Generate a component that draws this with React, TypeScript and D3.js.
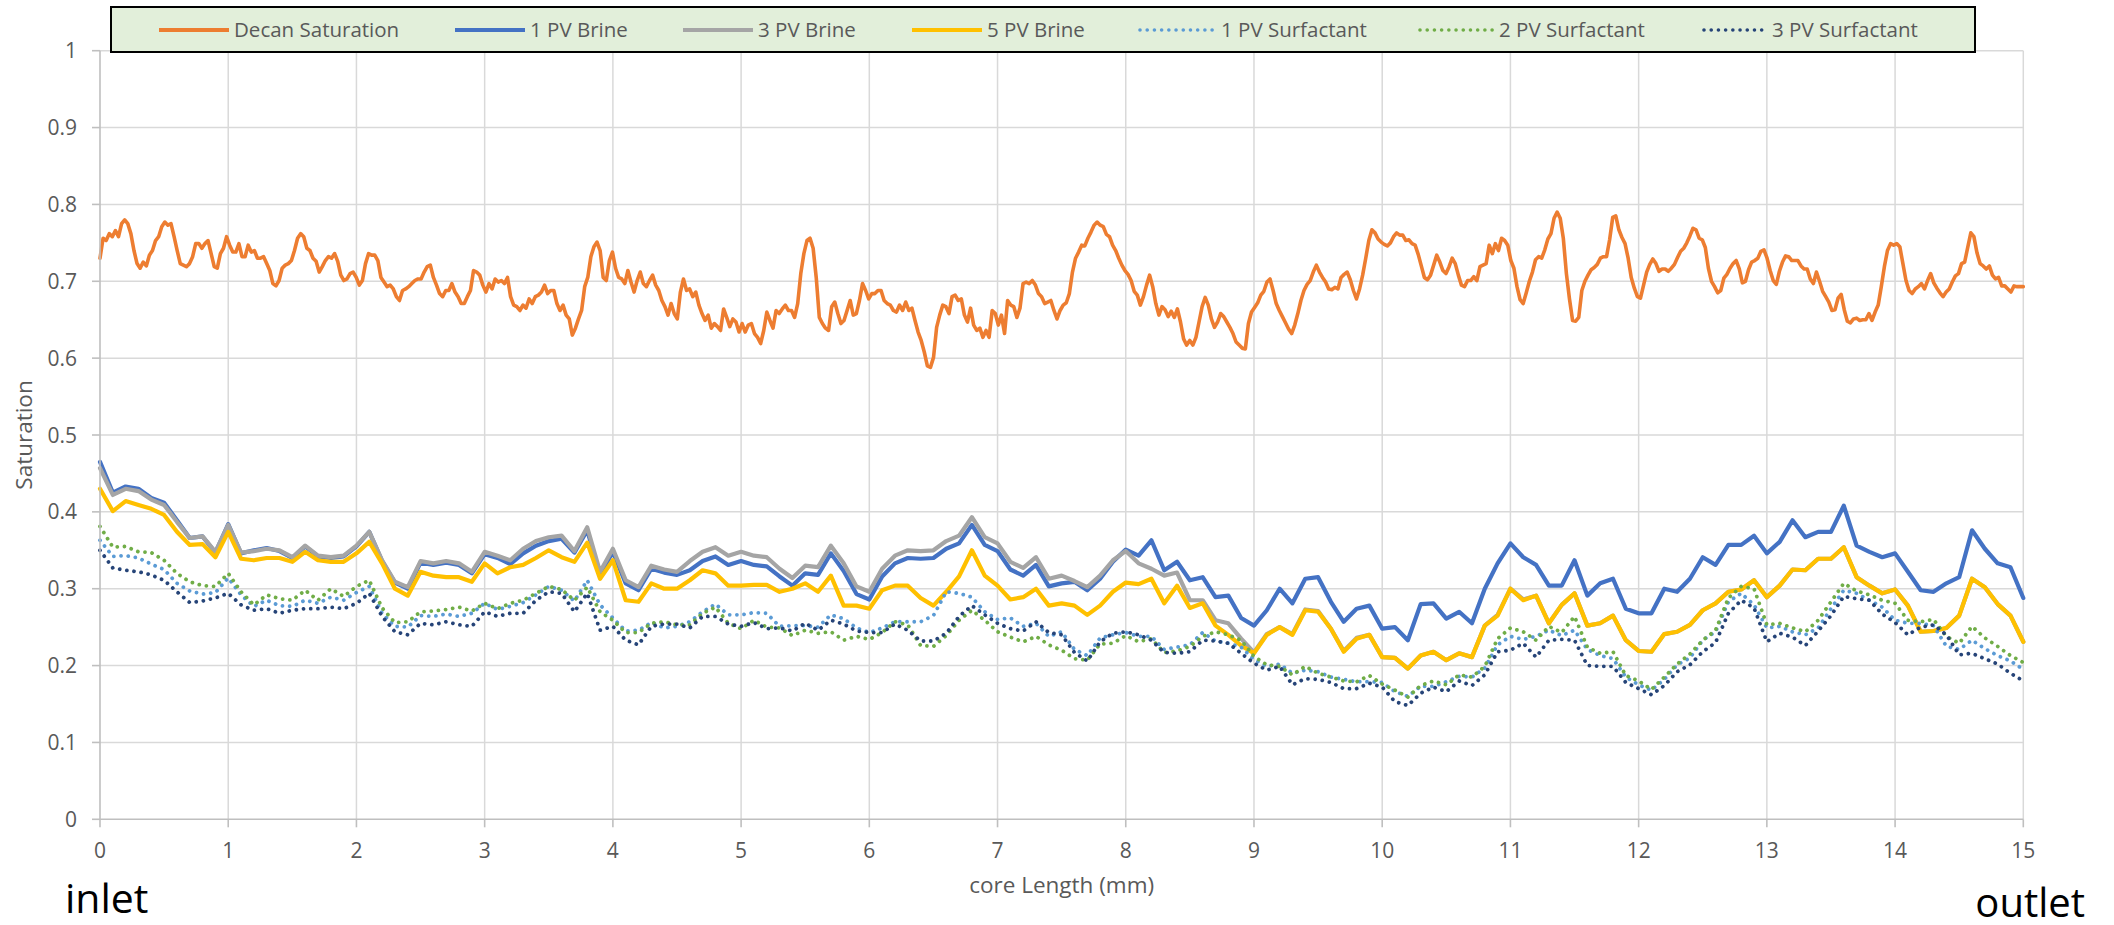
import React from 'react';
import * as d3 from 'd3';

// ---------- DATA ----------
const xTickValues = [0, 1, 2, 3, 4, 5, 6, 7, 8, 9, 10, 11, 12, 13, 14, 15];
const yTickValues = [0, 0.1, 0.2, 0.3, 0.4, 0.5, 0.6, 0.7, 0.8, 0.9, 1];
const yTickLabels = ['0', '0.1', '0.2', '0.3', '0.4', '0.5', '0.6', '0.7', '0.8', '0.9', '1'];
const seriesNames = ['Decan Saturation', '1 PV Brine', '3 PV Brine', '5 PV Brine', '1 PV Surfactant', '2 PV Surfactant', '3 PV Surfactant'];

const decanSaturation = [
  0.730, 0.756, 0.753, 0.762, 0.758, 0.766, 0.758, 0.775, 0.780, 0.775,
  0.762, 0.740, 0.723, 0.717, 0.725, 0.720, 0.734, 0.740, 0.753, 0.758,
  0.771, 0.777, 0.773, 0.775, 0.758, 0.740, 0.723, 0.721, 0.719, 0.723,
  0.732, 0.749, 0.749, 0.743, 0.749, 0.753, 0.736, 0.719, 0.717, 0.736,
  0.743, 0.758, 0.747, 0.738, 0.738, 0.749, 0.732, 0.732, 0.747, 0.738,
  0.740, 0.730, 0.730, 0.732, 0.723, 0.714, 0.697, 0.694, 0.701, 0.717,
  0.721, 0.723, 0.727, 0.740, 0.756, 0.762, 0.758, 0.743, 0.740, 0.730,
  0.726, 0.712, 0.719, 0.727, 0.732, 0.730, 0.736, 0.726, 0.708, 0.701,
  0.703, 0.710, 0.712, 0.705, 0.695, 0.701, 0.723, 0.736, 0.734, 0.734,
  0.727, 0.705, 0.699, 0.693, 0.695, 0.690, 0.680, 0.675, 0.688, 0.690,
  0.693, 0.697, 0.701, 0.703, 0.703, 0.712, 0.719, 0.721, 0.705, 0.695,
  0.684, 0.680, 0.688, 0.688, 0.697, 0.686, 0.680, 0.671, 0.671, 0.680,
  0.688, 0.714, 0.712, 0.708, 0.695, 0.686, 0.697, 0.690, 0.703, 0.699,
  0.701, 0.697, 0.705, 0.680, 0.669, 0.667, 0.662, 0.669, 0.665, 0.677,
  0.671, 0.680, 0.682, 0.686, 0.695, 0.684, 0.688, 0.688, 0.671, 0.662,
  0.669, 0.656, 0.651, 0.630, 0.639, 0.651, 0.662, 0.693, 0.705, 0.732,
  0.745, 0.751, 0.740, 0.705, 0.701, 0.727, 0.738, 0.717, 0.705, 0.703,
  0.697, 0.714, 0.699, 0.686, 0.701, 0.712, 0.697, 0.693, 0.701, 0.708,
  0.695, 0.688, 0.675, 0.667, 0.656, 0.671, 0.658, 0.651, 0.686, 0.703,
  0.688, 0.690, 0.680, 0.686, 0.669, 0.658, 0.649, 0.656, 0.639, 0.645,
  0.641, 0.636, 0.664, 0.653, 0.641, 0.651, 0.647, 0.634, 0.645, 0.634,
  0.643, 0.645, 0.632, 0.627, 0.619, 0.636, 0.660, 0.649, 0.639, 0.662,
  0.658, 0.664, 0.669, 0.662, 0.662, 0.653, 0.671, 0.710, 0.736, 0.753,
  0.756, 0.743, 0.705, 0.653, 0.645, 0.639, 0.636, 0.667, 0.673, 0.658,
  0.645, 0.649, 0.662, 0.675, 0.656, 0.658, 0.675, 0.697, 0.688, 0.677,
  0.684, 0.684, 0.688, 0.688, 0.675, 0.671, 0.669, 0.662, 0.660, 0.669,
  0.662, 0.673, 0.662, 0.665, 0.649, 0.634, 0.623, 0.608, 0.590, 0.588,
  0.601, 0.640, 0.656, 0.669, 0.667, 0.658, 0.680, 0.682, 0.675, 0.677,
  0.656, 0.647, 0.665, 0.643, 0.636, 0.639, 0.627, 0.636, 0.627, 0.662,
  0.658, 0.643, 0.656, 0.632, 0.675, 0.669, 0.667, 0.653, 0.665, 0.697,
  0.699, 0.697, 0.701, 0.695, 0.684, 0.680, 0.671, 0.673, 0.675, 0.662,
  0.651, 0.662, 0.669,
  0.672, 0.684, 0.712, 0.730, 0.738, 0.747, 0.746, 0.756, 0.764, 0.773, 0.777, 0.773, 0.771, 0.761, 0.758, 0.747, 0.740, 0.730, 0.721, 0.714,
  0.709, 0.701, 0.687, 0.682, 0.669, 0.680, 0.695, 0.708, 0.693, 0.671, 0.656, 0.667, 0.663, 0.654, 0.661, 0.653, 0.664, 0.647, 0.625, 0.617,
  0.623, 0.617, 0.627, 0.647, 0.667, 0.679, 0.669, 0.651, 0.640, 0.647, 0.658, 0.654, 0.647, 0.640, 0.632, 0.621, 0.617, 0.613, 0.612, 0.645,
  0.660, 0.666, 0.672, 0.682, 0.687, 0.699, 0.703, 0.688, 0.671, 0.662, 0.654, 0.646, 0.638, 0.632, 0.643, 0.658, 0.675, 0.688, 0.696, 0.701,
  0.712, 0.721, 0.712, 0.705, 0.699, 0.690, 0.689, 0.692, 0.690, 0.705, 0.709, 0.712, 0.702, 0.688, 0.677, 0.690, 0.708, 0.730, 0.753, 0.767,
  0.763, 0.755, 0.751, 0.748, 0.746, 0.750, 0.758, 0.763, 0.760, 0.760, 0.753, 0.754, 0.749, 0.747, 0.735, 0.720, 0.705, 0.702, 0.708, 0.721,
  0.734, 0.725, 0.714, 0.710, 0.719, 0.730, 0.723, 0.708, 0.695, 0.693, 0.701, 0.701, 0.706, 0.701, 0.719, 0.721, 0.723, 0.747, 0.736, 0.749,
  0.740, 0.756, 0.753, 0.747, 0.727, 0.717, 0.693, 0.676, 0.671, 0.685, 0.700, 0.712, 0.728, 0.732, 0.730, 0.741, 0.755, 0.762, 0.782, 0.790,
  0.782, 0.756, 0.710, 0.677, 0.649, 0.648, 0.653, 0.688, 0.700, 0.708, 0.715, 0.718, 0.722, 0.730, 0.732, 0.732, 0.754, 0.783, 0.785, 0.767,
  0.757, 0.749, 0.730, 0.705, 0.691, 0.680, 0.678, 0.695, 0.712, 0.722, 0.729, 0.723, 0.713, 0.716, 0.716, 0.713, 0.717, 0.722, 0.731, 0.739,
  0.743, 0.750, 0.759, 0.769, 0.767, 0.756, 0.754, 0.744, 0.717, 0.700, 0.693, 0.685, 0.688, 0.704, 0.709, 0.717, 0.723, 0.727, 0.716, 0.698,
  0.700, 0.715, 0.725, 0.727, 0.730, 0.739, 0.741, 0.730, 0.714, 0.701, 0.696, 0.713, 0.725, 0.733, 0.732, 0.727, 0.727, 0.727, 0.720, 0.716,
  0.716, 0.703, 0.697, 0.712, 0.700, 0.687, 0.680, 0.673, 0.662, 0.663, 0.678, 0.683, 0.663, 0.648, 0.646, 0.651, 0.652, 0.649, 0.650, 0.650,
  0.658, 0.649, 0.660, 0.669, 0.693, 0.719, 0.740, 0.749, 0.747, 0.749, 0.745, 0.723, 0.701, 0.688, 0.684, 0.690, 0.693, 0.697, 0.690, 0.701,
  0.710, 0.698, 0.691, 0.685, 0.680, 0.686, 0.690, 0.699, 0.707, 0.710, 0.723, 0.725, 0.744, 0.763, 0.758, 0.737, 0.723, 0.720, 0.716, 0.720,
  0.708, 0.703, 0.705, 0.694, 0.694, 0.690, 0.686, 0.694, 0.693, 0.693, 0.693,
];

const brine1PV = [
  0.465, 0.425, 0.433, 0.430, 0.418, 0.412, 0.389, 0.366, 0.368, 0.347, 0.384, 0.346, 0.350, 0.353, 0.349, 0.340, 0.355, 0.342, 0.340, 0.342,
  0.355, 0.374, 0.336, 0.308, 0.300, 0.334, 0.331, 0.334, 0.331, 0.320, 0.345, 0.340, 0.332, 0.346, 0.356, 0.362, 0.365, 0.347,
  0.376, 0.318, 0.348, 0.307, 0.298, 0.326, 0.321, 0.318, 0.324, 0.336, 0.342, 0.331, 0.336, 0.331, 0.329, 0.316, 0.304, 0.320, 0.318, 0.346,
  0.323, 0.293, 0.286, 0.316, 0.333, 0.340, 0.339, 0.340, 0.352, 0.359, 0.383, 0.357, 0.349, 0.325, 0.317, 0.331, 0.303, 0.307,
  0.309, 0.298, 0.313, 0.335, 0.351, 0.343, 0.363, 0.324, 0.335, 0.311, 0.315, 0.289, 0.291, 0.262, 0.252, 0.272, 0.300, 0.281, 0.313, 0.315,
  0.283, 0.257, 0.274, 0.278, 0.248, 0.250, 0.233, 0.280, 0.281, 0.261, 0.270, 0.255, 0.300, 0.333, 0.359, 0.341, 0.331,
  0.304, 0.304, 0.337, 0.291, 0.307, 0.313, 0.274, 0.268, 0.268, 0.300, 0.296, 0.313, 0.341, 0.331, 0.357, 0.357, 0.369, 0.346, 0.361, 0.389,
  0.367, 0.374, 0.374, 0.408, 0.356, 0.348, 0.341, 0.346, 0.322, 0.298, 0.296, 0.307, 0.315, 0.376, 0.352, 0.333, 0.328, 0.288,
];

const brine3PV = [
  0.457, 0.422, 0.430, 0.427, 0.416, 0.409, 0.387, 0.366, 0.368, 0.348, 0.383, 0.347, 0.349, 0.352, 0.350, 0.341, 0.356, 0.343, 0.341, 0.343,
  0.356, 0.374, 0.337, 0.309, 0.302, 0.336, 0.333, 0.336, 0.333, 0.322, 0.348, 0.343, 0.337, 0.352, 0.362, 0.367, 0.369, 0.349,
  0.380, 0.322, 0.352, 0.311, 0.302, 0.330, 0.325, 0.322, 0.336, 0.348, 0.354, 0.343, 0.348, 0.343, 0.341, 0.326, 0.314, 0.330, 0.328, 0.356,
  0.333, 0.303, 0.296, 0.326, 0.343, 0.350, 0.349, 0.350, 0.362, 0.369, 0.393, 0.367, 0.359, 0.335, 0.327, 0.341, 0.313, 0.317,
  0.310, 0.302, 0.317, 0.337, 0.349, 0.333, 0.326, 0.317, 0.321, 0.285, 0.285, 0.259, 0.255, 0.235, 0.217, 0.241, 0.250, 0.241, 0.273, 0.271,
  0.248, 0.219, 0.236, 0.240, 0.211, 0.210, 0.196, 0.213, 0.218, 0.207, 0.216, 0.211, 0.252, 0.266, 0.300, 0.286, 0.291,
  0.255, 0.279, 0.294, 0.252, 0.255, 0.265, 0.233, 0.219, 0.218, 0.241, 0.244, 0.253, 0.272, 0.281, 0.296, 0.299, 0.311, 0.289, 0.304, 0.325,
  0.324, 0.339, 0.339, 0.354, 0.315, 0.304, 0.294, 0.299, 0.278, 0.244, 0.245, 0.249, 0.265, 0.313, 0.302, 0.280, 0.265, 0.231,
];

const brine5PV = [
  0.430, 0.401, 0.414, 0.409, 0.404, 0.396, 0.374, 0.357, 0.358, 0.341, 0.374, 0.339, 0.337, 0.340, 0.340, 0.335, 0.348, 0.337, 0.335, 0.335,
  0.346, 0.361, 0.333, 0.300, 0.291, 0.322, 0.317, 0.315, 0.315, 0.309, 0.333, 0.320, 0.328, 0.331, 0.340, 0.350, 0.341, 0.335,
  0.360, 0.313, 0.337, 0.285, 0.283, 0.307, 0.300, 0.300, 0.311, 0.324, 0.320, 0.304, 0.304, 0.305, 0.305, 0.296, 0.300, 0.307, 0.296, 0.317,
  0.278, 0.278, 0.274, 0.298, 0.304, 0.304, 0.288, 0.278, 0.296, 0.316, 0.350, 0.317, 0.304, 0.286, 0.289, 0.300, 0.278, 0.281,
  0.278, 0.266, 0.278, 0.296, 0.308, 0.306, 0.313, 0.281, 0.304, 0.275, 0.281, 0.252, 0.240, 0.226, 0.216, 0.240, 0.250, 0.240, 0.272, 0.270,
  0.248, 0.218, 0.235, 0.240, 0.211, 0.210, 0.196, 0.213, 0.218, 0.207, 0.216, 0.211, 0.252, 0.265, 0.300, 0.285, 0.291,
  0.255, 0.279, 0.294, 0.252, 0.255, 0.265, 0.233, 0.219, 0.218, 0.241, 0.244, 0.253, 0.272, 0.281, 0.296, 0.299, 0.311, 0.289, 0.304, 0.325,
  0.324, 0.339, 0.339, 0.354, 0.315, 0.304, 0.294, 0.299, 0.278, 0.244, 0.245, 0.249, 0.265, 0.313, 0.302, 0.280, 0.265, 0.231,
];

const surfactant1PV = [
  0.363, 0.342, 0.343, 0.340, 0.332, 0.325, 0.307, 0.297, 0.293, 0.295, 0.314, 0.292, 0.277, 0.285, 0.278, 0.277, 0.285, 0.281, 0.289, 0.285,
  0.295, 0.303, 0.268, 0.251, 0.250, 0.265, 0.264, 0.267, 0.264, 0.268, 0.281, 0.273, 0.277, 0.282, 0.292, 0.303, 0.298, 0.284,
  0.311, 0.279, 0.262, 0.245, 0.246, 0.256, 0.249, 0.251, 0.257, 0.270, 0.280, 0.266, 0.266, 0.269, 0.268, 0.251, 0.252, 0.252, 0.250, 0.266,
  0.261, 0.249, 0.243, 0.249, 0.257, 0.257, 0.257, 0.265, 0.296, 0.294, 0.289, 0.270, 0.260, 0.262, 0.251, 0.255, 0.238, 0.244,
  0.221, 0.213, 0.236, 0.240, 0.243, 0.238, 0.238, 0.221, 0.224, 0.227, 0.243, 0.232, 0.229, 0.224, 0.208, 0.199, 0.202, 0.190, 0.194, 0.192,
  0.185, 0.182, 0.179, 0.179, 0.178, 0.166, 0.160, 0.173, 0.173, 0.179, 0.186, 0.185, 0.197, 0.227, 0.238, 0.234, 0.238,
  0.246, 0.239, 0.246, 0.221, 0.213, 0.209, 0.185, 0.175, 0.168, 0.182, 0.201, 0.210, 0.233, 0.244, 0.283, 0.294, 0.279, 0.249, 0.251, 0.244,
  0.240, 0.249, 0.274, 0.298, 0.294, 0.285, 0.276, 0.259, 0.255, 0.255, 0.252, 0.225, 0.221, 0.233, 0.222, 0.213, 0.206, 0.195,
];

const surfactant2PV = [
  0.381, 0.354, 0.355, 0.348, 0.347, 0.337, 0.320, 0.309, 0.304, 0.303, 0.320, 0.296, 0.279, 0.292, 0.287, 0.285, 0.298, 0.285, 0.300, 0.290,
  0.303, 0.311, 0.275, 0.256, 0.257, 0.270, 0.271, 0.273, 0.276, 0.271, 0.281, 0.274, 0.281, 0.285, 0.294, 0.303, 0.299, 0.285,
  0.302, 0.270, 0.259, 0.243, 0.243, 0.255, 0.257, 0.253, 0.253, 0.268, 0.276, 0.255, 0.248, 0.259, 0.250, 0.249, 0.239, 0.246, 0.242, 0.244,
  0.233, 0.238, 0.234, 0.243, 0.257, 0.253, 0.226, 0.225, 0.239, 0.259, 0.272, 0.259, 0.244, 0.237, 0.231, 0.238, 0.227, 0.220,
  0.209, 0.207, 0.228, 0.229, 0.239, 0.231, 0.235, 0.217, 0.219, 0.225, 0.238, 0.244, 0.240, 0.233, 0.212, 0.201, 0.199, 0.188, 0.199, 0.190,
  0.185, 0.180, 0.179, 0.187, 0.176, 0.168, 0.159, 0.174, 0.180, 0.175, 0.188, 0.185, 0.199, 0.235, 0.249, 0.244, 0.233,
  0.251, 0.243, 0.264, 0.224, 0.216, 0.218, 0.187, 0.180, 0.169, 0.185, 0.202, 0.215, 0.233, 0.246, 0.288, 0.303, 0.300, 0.253, 0.255, 0.249,
  0.244, 0.259, 0.283, 0.307, 0.297, 0.292, 0.285, 0.281, 0.259, 0.257, 0.260, 0.238, 0.229, 0.251, 0.236, 0.225, 0.213, 0.204,
];

const surfactant3PV = [
  0.350, 0.327, 0.324, 0.322, 0.318, 0.311, 0.296, 0.282, 0.284, 0.288, 0.294, 0.279, 0.272, 0.274, 0.268, 0.272, 0.274, 0.274, 0.276, 0.274,
  0.281, 0.294, 0.264, 0.244, 0.240, 0.255, 0.253, 0.257, 0.253, 0.251, 0.270, 0.264, 0.268, 0.268, 0.285, 0.296, 0.294, 0.270,
  0.294, 0.246, 0.251, 0.233, 0.227, 0.251, 0.254, 0.254, 0.249, 0.264, 0.264, 0.254, 0.251, 0.256, 0.248, 0.249, 0.245, 0.255, 0.246, 0.259,
  0.254, 0.245, 0.243, 0.243, 0.254, 0.246, 0.232, 0.232, 0.242, 0.264, 0.278, 0.266, 0.255, 0.248, 0.245, 0.257, 0.243, 0.240,
  0.217, 0.206, 0.231, 0.242, 0.244, 0.240, 0.233, 0.217, 0.216, 0.218, 0.233, 0.232, 0.229, 0.216, 0.203, 0.194, 0.199, 0.175, 0.183, 0.182,
  0.178, 0.170, 0.170, 0.177, 0.172, 0.153, 0.148, 0.164, 0.172, 0.166, 0.180, 0.174, 0.188, 0.218, 0.220, 0.229, 0.211,
  0.233, 0.234, 0.233, 0.200, 0.199, 0.199, 0.178, 0.170, 0.162, 0.174, 0.192, 0.201, 0.218, 0.230, 0.268, 0.285, 0.275, 0.231, 0.242, 0.237,
  0.226, 0.245, 0.265, 0.290, 0.287, 0.285, 0.267, 0.256, 0.240, 0.250, 0.253, 0.240, 0.214, 0.216, 0.209, 0.202, 0.190, 0.180,
];

// ---------- STYLE / LAYOUT ----------
const W = 2114;
const H = 925;
const FONT = "'Open Sans', 'Noto Sans', sans-serif";
const TEXT_GRAY = '#595959';
const X_MAX = 15;

const seriesStyle = [
  { color: '#ED7D31', width: 3.6, dotted: false },
  { color: '#4472C4', width: 4.2, dotted: false },
  { color: '#A5A5A5', width: 4.2, dotted: false },
  { color: '#FFC000', width: 4.2, dotted: false },
  { color: '#5B9BD5', width: 3.8, dotted: true },
  { color: '#70AD47', width: 3.8, dotted: true },
  { color: '#264478', width: 3.8, dotted: true },
];
const seriesData = [decanSaturation, brine1PV, brine3PV, brine5PV, surfactant1PV, surfactant2PV, surfactant3PV];
const legendLineStart = [159, 455, 683, 912, 1140, 1420, 1704];
const legendLineLen = [70, 70, 70, 70, 76, 74, 63];

export default function App() {
  const x = d3.scaleLinear().domain([0, X_MAX]).range([100, 2023.3]);
  const y = d3.scaleLinear().domain([0, 1]).range([819.3, 50.7]);

  const makePath = (vals: number[]) => {
    const step = X_MAX / (vals.length - 1);
    const line = d3
      .line<number>()
      .x((_d, i) => x(i * step))
      .y((d) => y(d));
    return line(vals) || '';
  };

  const [x0, x1] = x.range();
  const [y0, y1] = y.range();

  return (
    <svg
      width={W}
      height={H}
      viewBox={`0 0 ${W} ${H}`}
      style={{ position: 'absolute', left: 0, top: 0, background: '#fff' }}
      fontFamily={FONT}
    >
      {/* gridlines */}
      <g stroke="#D9D9D9" strokeWidth={1.5}>
        {yTickValues.slice(1).map((v) => (
          <line key={'h' + v} x1={x0} x2={x1} y1={y(v)} y2={y(v)} />
        ))}
        {xTickValues.slice(1).map((v) => (
          <line key={'v' + v} x1={x(v)} x2={x(v)} y1={y0} y2={y1} />
        ))}
      </g>

      {/* series */}
      {seriesData.map((vals, si) => {
        const st = seriesStyle[si];
        return (
          <path
            key={seriesNames[si]}
            d={makePath(vals)}
            fill="none"
            stroke={st.color}
            strokeWidth={st.width}
            strokeLinejoin="round"
            strokeLinecap="round"
            strokeDasharray={st.dotted ? '0.01 7.2' : undefined}
          />
        );
      })}

      {/* axes */}
      <g stroke="#BFBFBF" strokeWidth={1.6}>
        <line x1={x0} x2={x0} y1={y0 + 0.8} y2={y1} />
        <line x1={x0} x2={x1} y1={y0} y2={y0} />
        {yTickValues.map((v) => (
          <line key={'yt' + v} x1={x0 - 8} x2={x0} y1={y(v)} y2={y(v)} />
        ))}
        {xTickValues.map((v) => (
          <line key={'xt' + v} x1={x(v)} x2={x(v)} y1={y0} y2={y0 + 8} />
        ))}
      </g>

      {/* tick labels */}
      <g fill={TEXT_GRAY} fontSize={21}>
        {yTickValues.map((v, i) => (
          <text key={'yl' + v} x={77} y={y(v) + 7.5} textAnchor="end">
            {yTickLabels[i]}
          </text>
        ))}
        {xTickValues.map((v) => (
          <text key={'xl' + v} x={x(v)} y={858} textAnchor="middle">
            {String(v)}
          </text>
        ))}
      </g>

      {/* axis titles */}
      <text x={(x0 + x1) / 2} y={893} textAnchor="middle" fill={TEXT_GRAY} fontSize={22.5}>
        core Length (mm)
      </text>
      <text
        transform={`translate(32, ${(y0 + y1) / 2}) rotate(-90)`}
        textAnchor="middle"
        fill={TEXT_GRAY}
        fontSize={22.5}
      >
        Saturation
      </text>

      {/* inlet / outlet */}
      <text x={65} y={913} fill="#000" fontSize={41}>
        inlet
      </text>
      <text x={2085} y={917} fill="#000" fontSize={40} textAnchor="end">
        outlet
      </text>

      {/* legend */}
      <g>
        <rect x={111} y={7} width={1864} height={45} fill="#E2EFDA" stroke="#000" strokeWidth={2} />
        {seriesNames.map((name, i) => {
          const st = seriesStyle[i];
          const lx = legendLineStart[i];
          const len = legendLineLen[i];
          return (
            <g key={'lg' + name}>
              <line
                x1={lx}
                x2={lx + len}
                y1={30}
                y2={30}
                stroke={st.color}
                strokeWidth={st.dotted ? 3.6 : 4}
                strokeLinecap={st.dotted ? 'round' : 'butt'}
                strokeDasharray={st.dotted ? '0.01 7.2' : undefined}
              />
              <text x={lx + len + 5} y={37} fill={TEXT_GRAY} fontSize={20.5}>
                {name}
              </text>
            </g>
          );
        })}
      </g>
    </svg>
  );
}
